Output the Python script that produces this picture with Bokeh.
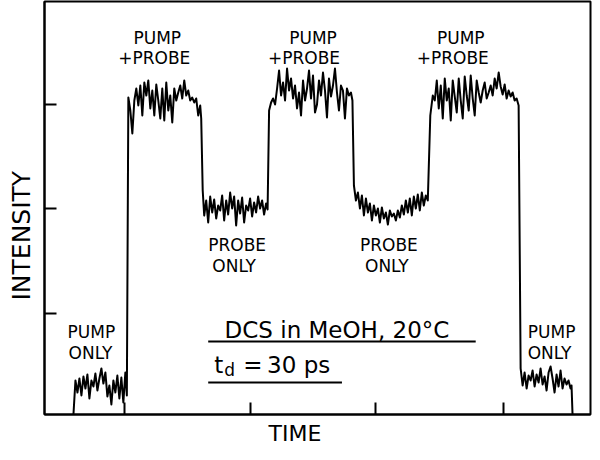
from bokeh.plotting import figure
from bokeh.models import Range1d, FixedTicker, Title
from bokeh.core.properties import value
from bokeh.embed import file_html
from bokeh.resources import INLINE

FONT = "DejaVu Sans"

# ---- trace data: time (arbitrary channels), intensity (arbitrary counts) ----
pump_only_1_t = [72, 74, 76, 78, 80, 82, 84, 86, 88, 90, 92, 94, 96, 98, 100, 102, 104,
                 106, 108, 110, 112, 114, 116, 118, 120, 122, 124, 125.5]
pump_only_1_i = [0, 34, 22, 36, 19, 38, 26, 40, 16, 34, 28, 41, 24, 36, 46, 31, 42,
                 18, 29, 10, 34, 22, 39, 16, 37, 12, 42, 19]

pump_probe_1_t = [127, 129, 131, 133, 135, 137, 139, 141, 143, 145, 147, 149, 151, 153,
                  155, 157, 159, 161, 163, 165, 167, 169, 171, 173, 175, 177, 179, 181,
                  183, 185, 187, 189, 191, 193, 195, 197, 199, 200]
pump_probe_1_i = [317, 304, 281, 314, 326, 309, 329, 299, 332, 319, 334, 306, 324, 299,
                  330, 314, 296, 326, 294, 332, 304, 319, 292, 326, 314, 322, 329, 316,
                  334, 319, 324, 314, 317, 312, 316, 299, 309, 296]

probe_only_1_t = [201.5, 203, 205, 207, 209, 211, 213, 215, 217, 219, 221, 223, 225, 227,
                  229, 231, 233, 235, 237, 239, 241, 243, 245, 247, 249, 251, 253, 255,
                  257, 259, 261, 263, 265, 266.5]
probe_only_1_i = [224, 199, 214, 192, 218, 202, 215, 196, 209, 204, 219, 194, 214, 200,
                  222, 206, 218, 189, 214, 201, 217, 192, 209, 204, 216, 198, 212, 202,
                  218, 206, 214, 200, 211, 205]

pump_probe_2_t = [268, 270, 272, 274, 276, 278, 280, 282, 284, 286, 288, 290, 292, 294,
                  296, 298, 300, 302, 304, 306, 308, 310, 312, 314, 316, 318, 320, 322,
                  324, 326, 328, 330, 332, 334, 336, 338, 340, 342, 344, 346, 348, 350, 351.5]
pump_probe_2_i = [304, 312, 316, 310, 326, 344, 319, 332, 314, 346, 324, 336, 316, 329,
                  306, 322, 299, 334, 314, 326, 344, 316, 339, 302, 310, 334, 319, 342,
                  324, 297, 336, 318, 329, 346, 322, 304, 329, 324, 296, 326, 319, 322, 314]

probe_only_2_t = [353, 355, 357, 359, 361, 363, 365, 367, 369, 371, 373, 375, 377, 379,
                  381, 383, 385, 387, 389, 391, 393, 395, 397, 399, 401, 403, 405, 407,
                  409, 411, 413, 415, 417, 419, 421, 423, 425, 427]
probe_only_2_i = [229, 214, 222, 206, 219, 199, 216, 202, 211, 194, 209, 199, 206, 192,
                  207, 196, 202, 190, 204, 198, 201, 194, 204, 197, 209, 200, 214, 202,
                  216, 199, 218, 206, 220, 204, 222, 209, 219, 214]

pump_probe_3_t = [429.5, 432, 434, 436, 438, 440, 442, 444, 446, 448, 450, 452, 454, 456,
                  458, 460, 462, 464, 466, 468, 470, 472, 474, 476, 478, 480, 482, 484,
                  486, 488, 490, 492, 494, 496, 498, 500, 502, 504, 506, 508, 510, 512,
                  514, 516, 518]
pump_probe_3_i = [299, 319, 314, 334, 306, 329, 296, 336, 314, 326, 294, 334, 318, 302,
                  336, 314, 296, 338, 319, 304, 339, 316, 299, 334, 322, 312, 324, 332,
                  316, 322, 329, 319, 336, 326, 342, 328, 320, 330, 316, 324, 318, 322,
                  314, 316, 309]

pump_only_2_t = [520, 522, 524, 526, 528, 530, 532, 534, 536, 538, 540, 542, 544, 546,
                 548, 550, 552, 554, 556, 558, 560, 562, 564, 566, 568, 570, 571, 572]
pump_only_2_i = [46, 29, 42, 26, 39, 34, 44, 28, 40, 32, 46, 30, 38, 24,
                 42, 48, 36, 22, 40, 28, 44, 26, 36, 30, 34, 26, 29, 0]

time_ticks = [123, 249, 375, 503]
intensity_ticks = [101, 206, 310]

# ---- annotation texts ----
small_labels = ["PUMP", "+PROBE", "PUMP", "+PROBE", "PUMP", "+PROBE",
                "PROBE", "ONLY", "PROBE", "ONLY",
                "PUMP", "ONLY", "PUMP", "ONLY"]
small_label_t = [156, 153, 312, 303, 460, 452,
                 236, 233, 388, 386,
                 90, 89, 551, 549]
small_label_i = [377, 357, 377, 357, 377, 357,
                 170, 149, 170, 149,
                 83, 62, 83, 62]

trace_t = (pump_only_1_t + pump_probe_1_t + probe_only_1_t + pump_probe_2_t +
           probe_only_2_t + pump_probe_3_t + pump_only_2_t)
trace_i = (pump_only_1_i + pump_probe_1_i + probe_only_1_i + pump_probe_2_i +
           probe_only_2_i + pump_probe_3_i + pump_only_2_i)

p = figure(width=592, height=452, output_backend="svg", toolbar_location=None,
           x_range=Range1d(43, 590), y_range=Range1d(0, 413),
           min_border_left=43, min_border_right=2, min_border_top=1, min_border_bottom=38)

p.background_fill_color = "white"
p.border_fill_color = "white"
p.outline_line_color = "black"
p.outline_line_width = 2
p.outline_line_alpha = 1.0
p.xgrid.visible = False
p.ygrid.visible = False

for ax, ticks in ((p.xaxis, time_ticks), (p.yaxis, intensity_ticks)):
    ax.ticker = FixedTicker(ticks=ticks)
    ax.major_tick_in = 12
    ax.major_tick_out = 0
    ax.minor_tick_in = 0
    ax.minor_tick_out = 0
    ax.major_tick_line_width = 2
    ax.major_tick_line_color = "black"
    ax.axis_line_width = 2
    ax.axis_line_color = "black"
    ax.major_label_text_color = None
    ax.major_label_text_font_size = "1px"
    ax.major_label_standoff = 0

p.line(trace_t, trace_i, line_color="black", line_width=2, line_join="round")

p.text(x=small_label_t, y=small_label_i, text=small_labels,
       text_font=value(FONT), text_font_size="17px", text_color="black",
       text_align="center", text_baseline="alphabetic")

# sample description block
p.text(x=[336], y=[85], text=["DCS in MeOH, 20°C"], text_font=value(FONT),
       text_font_size="23px", text_color="black", text_align="center",
       text_baseline="alphabetic")
p.text(x=[213], y=[50], text=["t"], text_font=value(FONT), text_font_size="23px",
       text_color="black", text_align="left", text_baseline="alphabetic")
p.text(x=[223], y=[45], text=["d"], text_font=value(FONT), text_font_size="17px",
       text_color="black", text_align="left", text_baseline="alphabetic")
p.text(x=[242], y=[50], text=["="], text_font=value(FONT), text_font_size="23px",
       text_color="black", text_align="left", text_baseline="alphabetic")
p.text(x=[266], y=[50], text=["30 ps"], text_font=value(FONT), text_font_size="23px",
       text_color="black", text_align="left", text_baseline="alphabetic")
p.segment(x0=[207, 207], y0=[73, 32], x1=[475, 341], y1=[73, 32],
          line_color="black", line_width=2)

p.add_layout(Title(text="INTENSITY", align="left", offset=114, standoff=13,
                   vertical_align="top",
                   text_font=FONT, text_font_size="25px", text_font_style="normal",
                   text_color="black"), "left")
p.add_layout(Title(text="TIME", align="left", offset=224, standoff=9,
                   text_font=FONT, text_font_size="22px", text_font_style="normal",
                   text_color="black"), "below")

open("out.html", "w").write(file_html(p, INLINE))
